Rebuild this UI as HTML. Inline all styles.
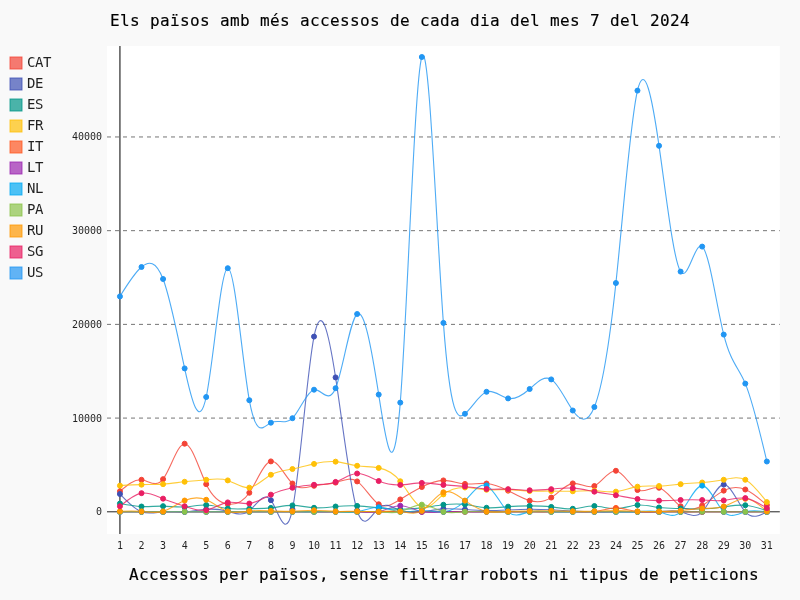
<!DOCTYPE html>
<html lang="ca"><head><meta charset="utf-8"><title>Els països amb més accessos de cada dia del mes 7 del 2024</title>
<style>
html,body{margin:0;padding:0;background:#f9f9f9;}
body{width:800px;height:600px;overflow:hidden;}
svg{display:block;font-family:"DejaVu Sans Mono","Liberation Mono",monospace;}
.title{font-size:16px;letter-spacing:0.3672px;fill:#000;stroke:#000;stroke-width:.15px}
.lab{font-size:10px;letter-spacing:-0.02px;fill:#000;fill-opacity:.87}
.leg{font-size:14px;letter-spacing:-0.43px;fill:#000;fill-opacity:.87}
.guide{stroke:#000;stroke-opacity:.54;stroke-dasharray:4,4;stroke-width:1;fill:none}
.axl{stroke:#000;stroke-opacity:1;stroke-width:1;fill:none}
.zero{stroke:#000;stroke-opacity:.87;stroke-width:1;fill:none}
.line{fill:none;stroke-width:1.1;stroke-opacity:.8;stroke-linejoin:round;stroke-linecap:round}
.dot{stroke-width:1}
.lbox{fill-opacity:.7;stroke-opacity:.8;stroke-width:1}
</style></head><body>
<svg width="800" height="600" viewBox="0 0 800 600">
<rect x="0" y="0" width="800" height="600" fill="#f9f9f9"/>
<rect x="107.00" y="46.00" width="672.80" height="488.00" fill="#ffffff"/>
<text class="title" x="110" y="26">Els països amb més accessos de cada dia del mes 7 del 2024</text>
<g class="axis-y">
<path class="axl" d="M119.94 46.00 v488.00"/>
<path class="zero" d="M107.00 511.80 h672.80"/>
<text class="lab" x="96.00" y="515.30">0</text>
<path class="guide" d="M107.00 418.09 h672.80"/>
<text class="lab" x="72.00" y="421.59">10000</text>
<path class="guide" d="M107.00 324.38 h672.80"/>
<text class="lab" x="72.00" y="327.88">20000</text>
<path class="guide" d="M107.00 230.67 h672.80"/>
<text class="lab" x="72.00" y="234.17">30000</text>
<path class="guide" d="M107.00 136.96 h672.80"/>
<text class="lab" x="72.00" y="140.46">40000</text>
</g>
<g class="axis-x">
<text class="lab" x="116.94" y="549.00">1</text>
<text class="lab" x="138.50" y="549.00">2</text>
<text class="lab" x="160.07" y="549.00">3</text>
<text class="lab" x="181.63" y="549.00">4</text>
<text class="lab" x="203.19" y="549.00">5</text>
<text class="lab" x="224.76" y="549.00">6</text>
<text class="lab" x="246.32" y="549.00">7</text>
<text class="lab" x="267.89" y="549.00">8</text>
<text class="lab" x="289.45" y="549.00">9</text>
<text class="lab" x="308.02" y="549.00">10</text>
<text class="lab" x="329.58" y="549.00">11</text>
<text class="lab" x="351.14" y="549.00">12</text>
<text class="lab" x="372.71" y="549.00">13</text>
<text class="lab" x="394.27" y="549.00">14</text>
<text class="lab" x="415.84" y="549.00">15</text>
<text class="lab" x="437.40" y="549.00">16</text>
<text class="lab" x="458.96" y="549.00">17</text>
<text class="lab" x="480.53" y="549.00">18</text>
<text class="lab" x="502.09" y="549.00">19</text>
<text class="lab" x="523.66" y="549.00">20</text>
<text class="lab" x="545.22" y="549.00">21</text>
<text class="lab" x="566.78" y="549.00">22</text>
<text class="lab" x="588.35" y="549.00">23</text>
<text class="lab" x="609.91" y="549.00">24</text>
<text class="lab" x="631.48" y="549.00">25</text>
<text class="lab" x="653.04" y="549.00">26</text>
<text class="lab" x="674.61" y="549.00">27</text>
<text class="lab" x="696.17" y="549.00">28</text>
<text class="lab" x="717.73" y="549.00">29</text>
<text class="lab" x="739.30" y="549.00">30</text>
<text class="lab" x="760.86" y="549.00">31</text>
</g>
<g class="series">
<path class="line" stroke="#F44336" d="M119.94 491.27C127.13 485.12 134.31 478.98 141.50 479.78C148.69 480.58 155.88 488.33 163.07 479.15C170.25 469.97 177.44 443.87 184.63 443.70C191.82 443.53 199.01 469.30 206.19 484.15C213.38 499.00 220.57 502.93 227.76 504.02C234.95 505.11 242.14 503.36 249.32 492.77C256.51 482.18 263.70 462.76 270.89 461.40C278.08 460.04 285.26 476.73 292.45 483.53C299.64 490.33 306.83 487.25 314.02 485.80C321.20 484.35 328.39 484.54 335.58 482.61C342.77 480.68 349.96 476.62 357.14 481.41C364.33 486.20 371.52 499.82 378.71 504.25C385.90 508.68 393.08 503.92 400.27 499.41C407.46 494.90 414.65 490.64 421.84 487.03C429.02 483.42 436.21 480.44 443.40 480.41C450.59 480.38 457.78 483.29 464.96 483.92C472.15 484.55 479.34 482.91 486.53 483.53C493.72 484.15 500.90 487.03 508.09 490.66C515.28 494.29 522.47 498.68 529.66 500.65C536.84 502.62 544.03 502.16 551.22 497.60C558.41 493.04 565.60 484.38 572.78 483.41C579.97 482.44 587.16 489.17 594.35 486.03C601.54 482.89 608.72 469.88 615.91 470.78C623.10 471.68 630.29 486.49 637.48 490.03C644.66 493.57 651.85 485.86 659.04 487.78C666.23 489.70 673.42 501.27 680.61 506.27C687.79 511.27 694.98 509.71 702.17 505.47C709.36 501.23 716.55 494.30 723.73 490.63C730.92 486.96 738.11 486.55 745.30 489.50C752.49 492.45 759.67 498.77 766.86 505.09"/>
<path class="line" stroke="#3F51B5" d="M119.94 494.03C127.13 501.56 134.31 509.09 141.50 511.80C148.69 514.51 155.88 512.39 163.07 511.80C170.25 511.21 177.44 512.14 184.63 511.80C191.82 511.46 199.01 509.84 206.19 509.31C213.38 508.78 220.57 509.35 227.76 511.30C234.95 513.25 242.14 516.57 249.32 510.90C256.51 505.23 263.70 490.57 270.89 500.15C278.08 509.73 285.26 543.55 292.45 509.30C299.64 475.05 306.83 372.73 314.02 336.60C321.20 300.47 328.39 330.53 335.58 377.41C342.77 424.29 349.96 487.99 357.14 510.50C364.33 533.01 371.52 514.32 378.71 508.00C385.90 501.68 393.08 507.72 400.27 510.50C407.46 513.28 414.65 512.79 421.84 511.80C429.02 510.81 436.21 509.33 443.40 508.84C450.59 508.35 457.78 508.86 464.96 509.40C472.15 509.94 479.34 510.50 486.53 510.60C493.72 510.70 500.90 510.34 508.09 510.00C515.28 509.66 522.47 509.35 529.66 509.30C536.84 509.25 544.03 509.46 551.22 509.80C558.41 510.14 565.60 510.62 572.78 511.00C579.97 511.38 587.16 511.68 594.35 511.80C601.54 511.92 608.72 511.87 615.91 511.80C623.10 511.73 630.29 511.65 637.48 511.80C644.66 511.95 651.85 512.32 659.04 511.80C666.23 511.28 673.42 509.86 680.61 511.80C687.79 513.74 694.98 519.05 702.17 511.80C709.36 504.55 716.55 484.76 723.73 484.62C730.92 484.48 738.11 503.99 745.30 511.80C752.49 519.61 759.67 515.70 766.86 511.80"/>
<path class="line" stroke="#009688" d="M119.94 503.53C127.13 504.89 134.31 506.25 141.50 506.53C148.69 506.81 155.88 506.02 163.07 506.15C170.25 506.28 177.44 507.35 184.63 506.97C191.82 506.59 199.01 504.78 206.19 505.03C213.38 505.28 220.57 507.60 227.76 508.50C234.95 509.40 242.14 508.88 249.32 508.70C256.51 508.52 263.70 508.70 270.89 507.90C278.08 507.10 285.26 505.34 292.45 505.40C299.64 505.46 306.83 507.34 314.02 507.77C321.20 508.20 328.39 507.18 335.58 506.53C342.77 505.88 349.96 505.58 357.14 505.90C364.33 506.22 371.52 507.14 378.71 507.90C385.90 508.66 393.08 509.26 400.27 509.30C407.46 509.34 414.65 508.83 421.84 507.90C429.02 506.97 436.21 505.62 443.40 504.77C450.59 503.92 457.78 503.56 464.96 504.40C472.15 505.24 479.34 507.27 486.53 507.77C493.72 508.27 500.90 507.24 508.09 506.65C515.28 506.06 522.47 505.90 529.66 505.90C536.84 505.90 544.03 506.07 551.22 506.90C558.41 507.73 565.60 509.24 572.78 508.77C579.97 508.30 587.16 505.85 594.35 506.03C601.54 506.21 608.72 509.00 615.91 508.84C623.10 508.68 630.29 505.56 637.48 505.03C644.66 504.50 651.85 506.57 659.04 507.53C666.23 508.49 673.42 508.35 680.61 508.52C687.79 508.69 694.98 509.17 702.17 509.00C709.36 508.83 716.55 508.01 723.73 506.97C730.92 505.93 738.11 504.66 745.30 505.25C752.49 505.84 759.67 508.27 766.86 510.71"/>
<path class="line" stroke="#FFC107" d="M119.94 485.65C127.13 485.22 134.31 484.80 141.50 484.65C148.69 484.50 155.88 484.63 163.07 484.15C170.25 483.67 177.44 482.56 184.63 481.78C191.82 481.00 199.01 480.53 206.19 479.78C213.38 479.03 220.57 478.00 227.76 480.40C234.95 482.80 242.14 488.63 249.32 487.65C256.51 486.67 263.70 478.87 270.89 474.78C278.08 470.69 285.26 470.31 292.45 469.03C299.64 467.75 306.83 465.58 314.02 463.90C321.20 462.22 328.39 461.03 335.58 461.65C342.77 462.27 349.96 464.71 357.14 465.77C364.33 466.83 371.52 466.53 378.71 467.90C385.90 469.27 393.08 472.33 400.27 481.28C407.46 490.23 414.65 505.08 421.84 507.53C429.02 509.98 436.21 500.05 443.40 494.40C450.59 488.75 457.78 487.39 464.96 487.53C472.15 487.67 479.34 489.32 486.53 489.78C493.72 490.24 500.90 489.52 508.09 489.64C515.28 489.76 522.47 490.73 529.66 491.04C536.84 491.35 544.03 491.01 551.22 491.04C558.41 491.07 565.60 491.46 572.78 491.27C579.97 491.08 587.16 490.32 594.35 490.66C601.54 491.00 608.72 492.44 615.91 491.65C623.10 490.86 630.29 487.83 637.48 486.66C644.66 485.49 651.85 486.19 659.04 486.03C666.23 485.87 673.42 484.85 680.61 484.15C687.79 483.45 694.98 483.06 702.17 482.50C709.36 481.94 716.55 481.20 723.73 479.75C730.92 478.30 738.11 476.14 745.30 479.75C752.49 483.36 759.67 492.74 766.86 502.12"/>
<path class="line" stroke="#FF5722" d="M119.94 511.80C127.13 511.80 134.31 511.80 141.50 511.80C148.69 511.80 155.88 511.80 163.07 511.80C170.25 511.80 177.44 511.80 184.63 511.80C191.82 511.80 199.01 511.80 206.19 511.80C213.38 511.80 220.57 511.80 227.76 511.80C234.95 511.80 242.14 511.80 249.32 511.80C256.51 511.80 263.70 511.80 270.89 511.80C278.08 511.80 285.26 511.80 292.45 511.80C299.64 511.80 306.83 511.80 314.02 511.80C321.20 511.80 328.39 511.80 335.58 511.80C342.77 511.80 349.96 511.80 357.14 511.80C364.33 511.80 371.52 511.80 378.71 511.80C385.90 511.80 393.08 511.80 400.27 511.80C407.46 511.80 414.65 511.80 421.84 511.80C429.02 511.80 436.21 511.80 443.40 511.80C450.59 511.80 457.78 511.80 464.96 511.80C472.15 511.80 479.34 511.80 486.53 511.80C493.72 511.80 500.90 511.81 508.09 511.80C515.28 511.79 522.47 511.78 529.66 511.80C536.84 511.82 544.03 511.88 551.22 511.80C558.41 511.72 565.60 511.52 572.78 511.80C579.97 512.08 587.16 512.85 594.35 511.80C601.54 510.75 608.72 507.90 615.91 507.90C623.10 507.90 630.29 510.75 637.48 511.80C644.66 512.85 651.85 512.08 659.04 511.80C666.23 511.52 673.42 511.72 680.61 511.80C687.79 511.88 694.98 511.82 702.17 511.80C709.36 511.78 716.55 511.79 723.73 511.80C730.92 511.81 738.11 511.80 745.30 511.80C752.49 511.80 759.67 511.80 766.86 511.80"/>
<path class="line" stroke="#9C27B0" d="M119.94 511.80C127.13 511.80 134.31 511.80 141.50 511.80C148.69 511.80 155.88 511.80 163.07 511.80C170.25 511.80 177.44 511.80 184.63 511.80C191.82 511.80 199.01 511.80 206.19 511.80C213.38 511.80 220.57 511.80 227.76 511.80C234.95 511.80 242.14 511.80 249.32 511.80C256.51 511.80 263.70 511.80 270.89 511.80C278.08 511.80 285.26 511.81 292.45 511.80C299.64 511.79 306.83 511.77 314.02 511.80C321.20 511.83 328.39 511.92 335.58 511.80C342.77 511.68 349.96 511.37 357.14 511.80C364.33 512.23 371.52 513.41 378.71 511.80C385.90 510.19 393.08 505.78 400.27 505.78C407.46 505.78 414.65 510.19 421.84 511.80C429.02 513.41 436.21 512.23 443.40 511.80C450.59 511.37 457.78 511.68 464.96 511.80C472.15 511.92 479.34 511.83 486.53 511.80C493.72 511.77 500.90 511.79 508.09 511.80C515.28 511.81 522.47 511.80 529.66 511.80C536.84 511.80 544.03 511.80 551.22 511.80C558.41 511.80 565.60 511.80 572.78 511.80C579.97 511.80 587.16 511.80 594.35 511.80C601.54 511.80 608.72 511.80 615.91 511.80C623.10 511.80 630.29 511.80 637.48 511.80C644.66 511.80 651.85 511.80 659.04 511.80C666.23 511.80 673.42 511.80 680.61 511.80C687.79 511.80 694.98 511.80 702.17 511.80C709.36 511.80 716.55 511.80 723.73 511.80C730.92 511.80 738.11 511.80 745.30 511.80C752.49 511.80 759.67 511.80 766.86 511.80"/>
<path class="line" stroke="#03A9F4" d="M119.94 511.80C127.13 511.80 134.31 511.80 141.50 511.80C148.69 511.80 155.88 511.80 163.07 511.80C170.25 511.80 177.44 511.80 184.63 511.80C191.82 511.80 199.01 511.80 206.19 511.80C213.38 511.80 220.57 511.80 227.76 511.80C234.95 511.80 242.14 511.80 249.32 511.80C256.51 511.80 263.70 511.81 270.89 511.80C278.08 511.79 285.26 511.78 292.45 511.80C299.64 511.82 306.83 511.89 314.02 511.80C321.20 511.71 328.39 511.47 335.58 511.80C342.77 512.13 349.96 513.04 357.14 511.80C364.33 510.56 371.52 507.17 378.71 507.28C385.90 507.39 393.08 511.01 400.27 511.80C407.46 512.59 414.65 510.54 421.84 510.50C429.02 510.46 436.21 512.42 443.40 511.80C450.59 511.18 457.78 507.99 464.96 500.80C472.15 493.61 479.34 482.43 486.53 485.41C493.72 488.39 500.90 505.53 508.09 511.80C515.28 518.07 522.47 513.48 529.66 511.80C536.84 510.12 544.03 511.35 551.22 511.80C558.41 512.25 565.60 511.91 572.78 511.80C579.97 511.69 587.16 511.80 594.35 511.80C601.54 511.80 608.72 511.67 615.91 511.80C623.10 511.93 630.29 512.30 637.48 511.80C644.66 511.30 651.85 509.92 659.04 511.80C666.23 513.68 673.42 518.81 680.61 511.80C687.79 504.79 694.98 485.64 702.17 485.63C709.36 485.62 716.55 504.75 723.73 511.80C730.92 518.85 738.11 513.81 745.30 511.80C752.49 509.79 759.67 510.79 766.86 511.80"/>
<path class="line" stroke="#8BC34A" d="M119.94 511.80C127.13 511.80 134.31 511.80 141.50 511.80C148.69 511.80 155.88 511.80 163.07 511.80C170.25 511.80 177.44 511.80 184.63 511.80C191.82 511.80 199.01 511.80 206.19 511.80C213.38 511.80 220.57 511.80 227.76 511.80C234.95 511.80 242.14 511.80 249.32 511.80C256.51 511.80 263.70 511.80 270.89 511.80C278.08 511.80 285.26 511.80 292.45 511.80C299.64 511.80 306.83 511.81 314.02 511.80C321.20 511.79 328.39 511.76 335.58 511.80C342.77 511.84 349.96 511.94 357.14 511.80C364.33 511.66 371.52 511.29 378.71 511.80C385.90 512.31 393.08 513.72 400.27 511.80C407.46 509.88 414.65 504.65 421.84 504.65C429.02 504.65 436.21 509.88 443.40 511.80C450.59 513.72 457.78 512.31 464.96 511.80C472.15 511.29 479.34 511.66 486.53 511.80C493.72 511.94 500.90 511.84 508.09 511.80C515.28 511.76 522.47 511.79 529.66 511.80C536.84 511.81 544.03 511.80 551.22 511.80C558.41 511.80 565.60 511.80 572.78 511.80C579.97 511.80 587.16 511.80 594.35 511.80C601.54 511.80 608.72 511.80 615.91 511.80C623.10 511.80 630.29 511.80 637.48 511.80C644.66 511.80 651.85 511.80 659.04 511.80C666.23 511.80 673.42 511.80 680.61 511.80C687.79 511.80 694.98 511.80 702.17 511.80C709.36 511.80 716.55 511.80 723.73 511.80C730.92 511.80 738.11 511.80 745.30 511.80C752.49 511.80 759.67 511.80 766.86 511.80"/>
<path class="line" stroke="#FF9800" d="M119.94 511.28C127.13 511.03 134.31 510.78 141.50 511.40C148.69 512.02 155.88 513.49 163.07 511.40C170.25 509.31 177.44 503.64 184.63 500.52C191.82 497.40 199.01 496.84 206.19 499.77C213.38 502.70 220.57 509.13 227.76 511.40C234.95 513.67 242.14 511.79 249.32 511.02C256.51 510.25 263.70 510.58 270.89 510.90C278.08 511.22 285.26 511.53 292.45 511.28C299.64 511.03 306.83 510.24 314.02 510.27C321.20 510.30 328.39 511.17 335.58 511.40C342.77 511.63 349.96 511.22 357.14 511.28C364.33 511.34 371.52 511.87 378.71 511.65C385.90 511.43 393.08 510.45 400.27 511.40C407.46 512.35 414.65 515.23 421.84 510.90C429.02 506.57 436.21 495.03 443.40 492.28C450.59 489.53 457.78 495.57 464.96 500.65C472.15 505.73 479.34 509.87 486.53 511.40C493.72 512.93 500.90 511.87 508.09 511.40C515.28 510.93 522.47 511.07 529.66 511.02C536.84 510.97 544.03 510.75 551.22 510.78C558.41 510.81 565.60 511.11 572.78 511.28C579.97 511.45 587.16 511.49 594.35 511.28C601.54 511.07 608.72 510.62 615.91 510.65C623.10 510.68 630.29 511.20 637.48 511.40C644.66 511.60 651.85 511.48 659.04 511.40C666.23 511.32 673.42 511.27 680.61 510.65C687.79 510.03 694.98 508.82 702.17 508.52C709.36 508.22 716.55 508.81 723.73 506.38C730.92 503.95 738.11 498.51 745.30 498.82C752.49 499.13 759.67 505.21 766.86 511.28"/>
<path class="line" stroke="#E91E63" d="M119.94 506.27C127.13 500.28 134.31 494.30 141.50 493.15C148.69 492.00 155.88 495.70 163.07 498.65C170.25 501.60 177.44 503.81 184.63 506.27C191.82 508.73 199.01 511.45 206.19 510.15C213.38 508.85 220.57 503.52 227.76 502.40C234.95 501.28 242.14 504.35 249.32 503.53C256.51 502.71 263.70 498.00 270.89 494.65C278.08 491.30 285.26 489.30 292.45 487.78C299.64 486.26 306.83 485.21 314.02 484.78C321.20 484.35 328.39 484.54 335.58 481.91C342.77 479.28 349.96 473.84 357.14 473.53C364.33 473.22 371.52 478.06 378.71 481.04C385.90 484.02 393.08 485.15 400.27 484.90C407.46 484.65 414.65 483.03 421.84 482.91C429.02 482.79 436.21 484.17 443.40 484.90C450.59 485.63 457.78 485.71 464.96 486.45C472.15 487.19 479.34 488.58 486.53 489.03C493.72 489.48 500.90 488.99 508.09 489.16C515.28 489.33 522.47 490.15 529.66 490.28C536.84 490.41 544.03 489.85 551.22 489.17C558.41 488.49 565.60 487.71 572.78 488.16C579.97 488.61 587.16 490.30 594.35 491.65C601.54 493.00 608.72 494.02 615.91 495.27C623.10 496.52 630.29 498.01 637.48 499.03C644.66 500.05 651.85 500.59 659.04 500.65C666.23 500.71 673.42 500.28 680.61 500.02C687.79 499.76 694.98 499.66 702.17 500.02C709.36 500.38 716.55 501.20 723.73 500.38C730.92 499.56 738.11 497.10 745.30 498.12C752.49 499.14 759.67 503.63 766.86 508.13"/>
<path class="line" stroke="#2196F3" d="M119.94 296.40C127.13 284.74 134.31 273.08 141.50 267.00C148.69 260.92 155.88 260.42 163.07 279.01C170.25 297.60 177.44 335.27 184.63 368.40C191.82 401.53 199.01 430.12 206.19 397.00C213.38 363.88 220.57 269.06 227.76 268.20C234.95 267.34 242.14 360.43 249.32 400.20C256.51 439.97 263.70 426.40 270.89 422.70C278.08 419.00 285.26 425.16 292.45 418.20C299.64 411.24 306.83 391.18 314.02 389.70C321.20 388.22 328.39 405.34 335.58 388.20C342.77 371.06 349.96 319.67 357.14 314.00C364.33 308.33 371.52 348.37 378.71 394.60C385.90 440.83 393.08 493.24 400.27 402.60C407.46 311.96 414.65 78.28 421.84 57.00C429.02 35.72 436.21 226.83 443.40 322.88C450.59 418.93 457.78 419.90 464.96 413.80C472.15 407.70 479.34 394.51 486.53 391.80C493.72 389.09 500.90 396.87 508.09 398.40C515.28 399.93 522.47 395.23 529.66 389.00C536.84 382.77 544.03 375.02 551.22 379.40C558.41 383.78 565.60 400.31 572.78 410.52C579.97 420.73 587.16 424.63 594.35 407.00C601.54 389.37 608.72 350.21 615.91 283.01C623.10 215.81 630.29 120.59 637.48 90.60C644.66 60.61 651.85 95.87 659.04 145.80C666.23 195.73 673.42 260.33 680.61 271.60C687.79 282.87 694.98 240.81 702.17 246.60C709.36 252.39 716.55 306.03 723.73 334.59C730.92 363.15 738.11 366.63 745.30 383.60C752.49 400.57 759.67 431.04 766.86 461.50"/>
</g>
<g class="dots">
<g fill="#F44336" stroke="#F44336">
<circle class="dot" cx="119.94" cy="491.27" r="2.5"/>
<circle class="dot" cx="141.50" cy="479.78" r="2.5"/>
<circle class="dot" cx="163.07" cy="479.15" r="2.5"/>
<circle class="dot" cx="184.63" cy="443.70" r="2.5"/>
<circle class="dot" cx="206.19" cy="484.15" r="2.5"/>
<circle class="dot" cx="227.76" cy="504.02" r="2.5"/>
<circle class="dot" cx="249.32" cy="492.77" r="2.5"/>
<circle class="dot" cx="270.89" cy="461.40" r="2.5"/>
<circle class="dot" cx="292.45" cy="483.53" r="2.5"/>
<circle class="dot" cx="314.02" cy="485.80" r="2.5"/>
<circle class="dot" cx="335.58" cy="482.61" r="2.5"/>
<circle class="dot" cx="357.14" cy="481.41" r="2.5"/>
<circle class="dot" cx="378.71" cy="504.25" r="2.5"/>
<circle class="dot" cx="400.27" cy="499.41" r="2.5"/>
<circle class="dot" cx="421.84" cy="487.03" r="2.5"/>
<circle class="dot" cx="443.40" cy="480.41" r="2.5"/>
<circle class="dot" cx="464.96" cy="483.92" r="2.5"/>
<circle class="dot" cx="486.53" cy="483.53" r="2.5"/>
<circle class="dot" cx="508.09" cy="490.66" r="2.5"/>
<circle class="dot" cx="529.66" cy="500.65" r="2.5"/>
<circle class="dot" cx="551.22" cy="497.60" r="2.5"/>
<circle class="dot" cx="572.78" cy="483.41" r="2.5"/>
<circle class="dot" cx="594.35" cy="486.03" r="2.5"/>
<circle class="dot" cx="615.91" cy="470.78" r="2.5"/>
<circle class="dot" cx="637.48" cy="490.03" r="2.5"/>
<circle class="dot" cx="659.04" cy="487.78" r="2.5"/>
<circle class="dot" cx="680.61" cy="506.27" r="2.5"/>
<circle class="dot" cx="702.17" cy="505.47" r="2.5"/>
<circle class="dot" cx="723.73" cy="490.63" r="2.5"/>
<circle class="dot" cx="745.30" cy="489.50" r="2.5"/>
<circle class="dot" cx="766.86" cy="505.09" r="2.5"/>
</g>
<g fill="#3F51B5" stroke="#3F51B5">
<circle class="dot" cx="119.94" cy="494.03" r="2.5"/>
<circle class="dot" cx="141.50" cy="511.80" r="2.5"/>
<circle class="dot" cx="163.07" cy="511.80" r="2.5"/>
<circle class="dot" cx="184.63" cy="511.80" r="2.5"/>
<circle class="dot" cx="206.19" cy="509.31" r="2.5"/>
<circle class="dot" cx="227.76" cy="511.30" r="2.5"/>
<circle class="dot" cx="249.32" cy="510.90" r="2.5"/>
<circle class="dot" cx="270.89" cy="500.15" r="2.5"/>
<circle class="dot" cx="292.45" cy="509.30" r="2.5"/>
<circle class="dot" cx="314.02" cy="336.60" r="2.5"/>
<circle class="dot" cx="335.58" cy="377.41" r="2.5"/>
<circle class="dot" cx="357.14" cy="510.50" r="2.5"/>
<circle class="dot" cx="378.71" cy="508.00" r="2.5"/>
<circle class="dot" cx="400.27" cy="510.50" r="2.5"/>
<circle class="dot" cx="421.84" cy="511.80" r="2.5"/>
<circle class="dot" cx="443.40" cy="508.84" r="2.5"/>
<circle class="dot" cx="464.96" cy="509.40" r="2.5"/>
<circle class="dot" cx="486.53" cy="510.60" r="2.5"/>
<circle class="dot" cx="508.09" cy="510.00" r="2.5"/>
<circle class="dot" cx="529.66" cy="509.30" r="2.5"/>
<circle class="dot" cx="551.22" cy="509.80" r="2.5"/>
<circle class="dot" cx="572.78" cy="511.00" r="2.5"/>
<circle class="dot" cx="594.35" cy="511.80" r="2.5"/>
<circle class="dot" cx="615.91" cy="511.80" r="2.5"/>
<circle class="dot" cx="637.48" cy="511.80" r="2.5"/>
<circle class="dot" cx="659.04" cy="511.80" r="2.5"/>
<circle class="dot" cx="680.61" cy="511.80" r="2.5"/>
<circle class="dot" cx="702.17" cy="511.80" r="2.5"/>
<circle class="dot" cx="723.73" cy="484.62" r="2.5"/>
<circle class="dot" cx="745.30" cy="511.80" r="2.5"/>
<circle class="dot" cx="766.86" cy="511.80" r="2.5"/>
</g>
<g fill="#009688" stroke="#009688">
<circle class="dot" cx="119.94" cy="503.53" r="2.5"/>
<circle class="dot" cx="141.50" cy="506.53" r="2.5"/>
<circle class="dot" cx="163.07" cy="506.15" r="2.5"/>
<circle class="dot" cx="184.63" cy="506.97" r="2.5"/>
<circle class="dot" cx="206.19" cy="505.03" r="2.5"/>
<circle class="dot" cx="227.76" cy="508.50" r="2.5"/>
<circle class="dot" cx="249.32" cy="508.70" r="2.5"/>
<circle class="dot" cx="270.89" cy="507.90" r="2.5"/>
<circle class="dot" cx="292.45" cy="505.40" r="2.5"/>
<circle class="dot" cx="314.02" cy="507.77" r="2.5"/>
<circle class="dot" cx="335.58" cy="506.53" r="2.5"/>
<circle class="dot" cx="357.14" cy="505.90" r="2.5"/>
<circle class="dot" cx="378.71" cy="507.90" r="2.5"/>
<circle class="dot" cx="400.27" cy="509.30" r="2.5"/>
<circle class="dot" cx="421.84" cy="507.90" r="2.5"/>
<circle class="dot" cx="443.40" cy="504.77" r="2.5"/>
<circle class="dot" cx="464.96" cy="504.40" r="2.5"/>
<circle class="dot" cx="486.53" cy="507.77" r="2.5"/>
<circle class="dot" cx="508.09" cy="506.65" r="2.5"/>
<circle class="dot" cx="529.66" cy="505.90" r="2.5"/>
<circle class="dot" cx="551.22" cy="506.90" r="2.5"/>
<circle class="dot" cx="572.78" cy="508.77" r="2.5"/>
<circle class="dot" cx="594.35" cy="506.03" r="2.5"/>
<circle class="dot" cx="615.91" cy="508.84" r="2.5"/>
<circle class="dot" cx="637.48" cy="505.03" r="2.5"/>
<circle class="dot" cx="659.04" cy="507.53" r="2.5"/>
<circle class="dot" cx="680.61" cy="508.52" r="2.5"/>
<circle class="dot" cx="702.17" cy="509.00" r="2.5"/>
<circle class="dot" cx="723.73" cy="506.97" r="2.5"/>
<circle class="dot" cx="745.30" cy="505.25" r="2.5"/>
<circle class="dot" cx="766.86" cy="510.71" r="2.5"/>
</g>
<g fill="#FFC107" stroke="#FFC107">
<circle class="dot" cx="119.94" cy="485.65" r="2.5"/>
<circle class="dot" cx="141.50" cy="484.65" r="2.5"/>
<circle class="dot" cx="163.07" cy="484.15" r="2.5"/>
<circle class="dot" cx="184.63" cy="481.78" r="2.5"/>
<circle class="dot" cx="206.19" cy="479.78" r="2.5"/>
<circle class="dot" cx="227.76" cy="480.40" r="2.5"/>
<circle class="dot" cx="249.32" cy="487.65" r="2.5"/>
<circle class="dot" cx="270.89" cy="474.78" r="2.5"/>
<circle class="dot" cx="292.45" cy="469.03" r="2.5"/>
<circle class="dot" cx="314.02" cy="463.90" r="2.5"/>
<circle class="dot" cx="335.58" cy="461.65" r="2.5"/>
<circle class="dot" cx="357.14" cy="465.77" r="2.5"/>
<circle class="dot" cx="378.71" cy="467.90" r="2.5"/>
<circle class="dot" cx="400.27" cy="481.28" r="2.5"/>
<circle class="dot" cx="421.84" cy="507.53" r="2.5"/>
<circle class="dot" cx="443.40" cy="494.40" r="2.5"/>
<circle class="dot" cx="464.96" cy="487.53" r="2.5"/>
<circle class="dot" cx="486.53" cy="489.78" r="2.5"/>
<circle class="dot" cx="508.09" cy="489.64" r="2.5"/>
<circle class="dot" cx="529.66" cy="491.04" r="2.5"/>
<circle class="dot" cx="551.22" cy="491.04" r="2.5"/>
<circle class="dot" cx="572.78" cy="491.27" r="2.5"/>
<circle class="dot" cx="594.35" cy="490.66" r="2.5"/>
<circle class="dot" cx="615.91" cy="491.65" r="2.5"/>
<circle class="dot" cx="637.48" cy="486.66" r="2.5"/>
<circle class="dot" cx="659.04" cy="486.03" r="2.5"/>
<circle class="dot" cx="680.61" cy="484.15" r="2.5"/>
<circle class="dot" cx="702.17" cy="482.50" r="2.5"/>
<circle class="dot" cx="723.73" cy="479.75" r="2.5"/>
<circle class="dot" cx="745.30" cy="479.75" r="2.5"/>
<circle class="dot" cx="766.86" cy="502.12" r="2.5"/>
</g>
<g fill="#FF5722" stroke="#FF5722">
<circle class="dot" cx="119.94" cy="511.80" r="2.5"/>
<circle class="dot" cx="141.50" cy="511.80" r="2.5"/>
<circle class="dot" cx="163.07" cy="511.80" r="2.5"/>
<circle class="dot" cx="184.63" cy="511.80" r="2.5"/>
<circle class="dot" cx="206.19" cy="511.80" r="2.5"/>
<circle class="dot" cx="227.76" cy="511.80" r="2.5"/>
<circle class="dot" cx="249.32" cy="511.80" r="2.5"/>
<circle class="dot" cx="270.89" cy="511.80" r="2.5"/>
<circle class="dot" cx="292.45" cy="511.80" r="2.5"/>
<circle class="dot" cx="314.02" cy="511.80" r="2.5"/>
<circle class="dot" cx="335.58" cy="511.80" r="2.5"/>
<circle class="dot" cx="357.14" cy="511.80" r="2.5"/>
<circle class="dot" cx="378.71" cy="511.80" r="2.5"/>
<circle class="dot" cx="400.27" cy="511.80" r="2.5"/>
<circle class="dot" cx="421.84" cy="511.80" r="2.5"/>
<circle class="dot" cx="443.40" cy="511.80" r="2.5"/>
<circle class="dot" cx="464.96" cy="511.80" r="2.5"/>
<circle class="dot" cx="486.53" cy="511.80" r="2.5"/>
<circle class="dot" cx="508.09" cy="511.80" r="2.5"/>
<circle class="dot" cx="529.66" cy="511.80" r="2.5"/>
<circle class="dot" cx="551.22" cy="511.80" r="2.5"/>
<circle class="dot" cx="572.78" cy="511.80" r="2.5"/>
<circle class="dot" cx="594.35" cy="511.80" r="2.5"/>
<circle class="dot" cx="615.91" cy="507.90" r="2.5"/>
<circle class="dot" cx="637.48" cy="511.80" r="2.5"/>
<circle class="dot" cx="659.04" cy="511.80" r="2.5"/>
<circle class="dot" cx="680.61" cy="511.80" r="2.5"/>
<circle class="dot" cx="702.17" cy="511.80" r="2.5"/>
<circle class="dot" cx="723.73" cy="511.80" r="2.5"/>
<circle class="dot" cx="745.30" cy="511.80" r="2.5"/>
<circle class="dot" cx="766.86" cy="511.80" r="2.5"/>
</g>
<g fill="#9C27B0" stroke="#9C27B0">
<circle class="dot" cx="119.94" cy="511.80" r="2.5"/>
<circle class="dot" cx="141.50" cy="511.80" r="2.5"/>
<circle class="dot" cx="163.07" cy="511.80" r="2.5"/>
<circle class="dot" cx="184.63" cy="511.80" r="2.5"/>
<circle class="dot" cx="206.19" cy="511.80" r="2.5"/>
<circle class="dot" cx="227.76" cy="511.80" r="2.5"/>
<circle class="dot" cx="249.32" cy="511.80" r="2.5"/>
<circle class="dot" cx="270.89" cy="511.80" r="2.5"/>
<circle class="dot" cx="292.45" cy="511.80" r="2.5"/>
<circle class="dot" cx="314.02" cy="511.80" r="2.5"/>
<circle class="dot" cx="335.58" cy="511.80" r="2.5"/>
<circle class="dot" cx="357.14" cy="511.80" r="2.5"/>
<circle class="dot" cx="378.71" cy="511.80" r="2.5"/>
<circle class="dot" cx="400.27" cy="505.78" r="2.5"/>
<circle class="dot" cx="421.84" cy="511.80" r="2.5"/>
<circle class="dot" cx="443.40" cy="511.80" r="2.5"/>
<circle class="dot" cx="464.96" cy="511.80" r="2.5"/>
<circle class="dot" cx="486.53" cy="511.80" r="2.5"/>
<circle class="dot" cx="508.09" cy="511.80" r="2.5"/>
<circle class="dot" cx="529.66" cy="511.80" r="2.5"/>
<circle class="dot" cx="551.22" cy="511.80" r="2.5"/>
<circle class="dot" cx="572.78" cy="511.80" r="2.5"/>
<circle class="dot" cx="594.35" cy="511.80" r="2.5"/>
<circle class="dot" cx="615.91" cy="511.80" r="2.5"/>
<circle class="dot" cx="637.48" cy="511.80" r="2.5"/>
<circle class="dot" cx="659.04" cy="511.80" r="2.5"/>
<circle class="dot" cx="680.61" cy="511.80" r="2.5"/>
<circle class="dot" cx="702.17" cy="511.80" r="2.5"/>
<circle class="dot" cx="723.73" cy="511.80" r="2.5"/>
<circle class="dot" cx="745.30" cy="511.80" r="2.5"/>
<circle class="dot" cx="766.86" cy="511.80" r="2.5"/>
</g>
<g fill="#03A9F4" stroke="#03A9F4">
<circle class="dot" cx="119.94" cy="511.80" r="2.5"/>
<circle class="dot" cx="141.50" cy="511.80" r="2.5"/>
<circle class="dot" cx="163.07" cy="511.80" r="2.5"/>
<circle class="dot" cx="184.63" cy="511.80" r="2.5"/>
<circle class="dot" cx="206.19" cy="511.80" r="2.5"/>
<circle class="dot" cx="227.76" cy="511.80" r="2.5"/>
<circle class="dot" cx="249.32" cy="511.80" r="2.5"/>
<circle class="dot" cx="270.89" cy="511.80" r="2.5"/>
<circle class="dot" cx="292.45" cy="511.80" r="2.5"/>
<circle class="dot" cx="314.02" cy="511.80" r="2.5"/>
<circle class="dot" cx="335.58" cy="511.80" r="2.5"/>
<circle class="dot" cx="357.14" cy="511.80" r="2.5"/>
<circle class="dot" cx="378.71" cy="507.28" r="2.5"/>
<circle class="dot" cx="400.27" cy="511.80" r="2.5"/>
<circle class="dot" cx="421.84" cy="510.50" r="2.5"/>
<circle class="dot" cx="443.40" cy="511.80" r="2.5"/>
<circle class="dot" cx="464.96" cy="500.80" r="2.5"/>
<circle class="dot" cx="486.53" cy="485.41" r="2.5"/>
<circle class="dot" cx="508.09" cy="511.80" r="2.5"/>
<circle class="dot" cx="529.66" cy="511.80" r="2.5"/>
<circle class="dot" cx="551.22" cy="511.80" r="2.5"/>
<circle class="dot" cx="572.78" cy="511.80" r="2.5"/>
<circle class="dot" cx="594.35" cy="511.80" r="2.5"/>
<circle class="dot" cx="615.91" cy="511.80" r="2.5"/>
<circle class="dot" cx="637.48" cy="511.80" r="2.5"/>
<circle class="dot" cx="659.04" cy="511.80" r="2.5"/>
<circle class="dot" cx="680.61" cy="511.80" r="2.5"/>
<circle class="dot" cx="702.17" cy="485.63" r="2.5"/>
<circle class="dot" cx="723.73" cy="511.80" r="2.5"/>
<circle class="dot" cx="745.30" cy="511.80" r="2.5"/>
<circle class="dot" cx="766.86" cy="511.80" r="2.5"/>
</g>
<g fill="#8BC34A" stroke="#8BC34A">
<circle class="dot" cx="119.94" cy="511.80" r="2.5"/>
<circle class="dot" cx="141.50" cy="511.80" r="2.5"/>
<circle class="dot" cx="163.07" cy="511.80" r="2.5"/>
<circle class="dot" cx="184.63" cy="511.80" r="2.5"/>
<circle class="dot" cx="206.19" cy="511.80" r="2.5"/>
<circle class="dot" cx="227.76" cy="511.80" r="2.5"/>
<circle class="dot" cx="249.32" cy="511.80" r="2.5"/>
<circle class="dot" cx="270.89" cy="511.80" r="2.5"/>
<circle class="dot" cx="292.45" cy="511.80" r="2.5"/>
<circle class="dot" cx="314.02" cy="511.80" r="2.5"/>
<circle class="dot" cx="335.58" cy="511.80" r="2.5"/>
<circle class="dot" cx="357.14" cy="511.80" r="2.5"/>
<circle class="dot" cx="378.71" cy="511.80" r="2.5"/>
<circle class="dot" cx="400.27" cy="511.80" r="2.5"/>
<circle class="dot" cx="421.84" cy="504.65" r="2.5"/>
<circle class="dot" cx="443.40" cy="511.80" r="2.5"/>
<circle class="dot" cx="464.96" cy="511.80" r="2.5"/>
<circle class="dot" cx="486.53" cy="511.80" r="2.5"/>
<circle class="dot" cx="508.09" cy="511.80" r="2.5"/>
<circle class="dot" cx="529.66" cy="511.80" r="2.5"/>
<circle class="dot" cx="551.22" cy="511.80" r="2.5"/>
<circle class="dot" cx="572.78" cy="511.80" r="2.5"/>
<circle class="dot" cx="594.35" cy="511.80" r="2.5"/>
<circle class="dot" cx="615.91" cy="511.80" r="2.5"/>
<circle class="dot" cx="637.48" cy="511.80" r="2.5"/>
<circle class="dot" cx="659.04" cy="511.80" r="2.5"/>
<circle class="dot" cx="680.61" cy="511.80" r="2.5"/>
<circle class="dot" cx="702.17" cy="511.80" r="2.5"/>
<circle class="dot" cx="723.73" cy="511.80" r="2.5"/>
<circle class="dot" cx="745.30" cy="511.80" r="2.5"/>
<circle class="dot" cx="766.86" cy="511.80" r="2.5"/>
</g>
<g fill="#FF9800" stroke="#FF9800">
<circle class="dot" cx="119.94" cy="511.28" r="2.5"/>
<circle class="dot" cx="141.50" cy="511.40" r="2.5"/>
<circle class="dot" cx="163.07" cy="511.40" r="2.5"/>
<circle class="dot" cx="184.63" cy="500.52" r="2.5"/>
<circle class="dot" cx="206.19" cy="499.77" r="2.5"/>
<circle class="dot" cx="227.76" cy="511.40" r="2.5"/>
<circle class="dot" cx="249.32" cy="511.02" r="2.5"/>
<circle class="dot" cx="270.89" cy="510.90" r="2.5"/>
<circle class="dot" cx="292.45" cy="511.28" r="2.5"/>
<circle class="dot" cx="314.02" cy="510.27" r="2.5"/>
<circle class="dot" cx="335.58" cy="511.40" r="2.5"/>
<circle class="dot" cx="357.14" cy="511.28" r="2.5"/>
<circle class="dot" cx="378.71" cy="511.65" r="2.5"/>
<circle class="dot" cx="400.27" cy="511.40" r="2.5"/>
<circle class="dot" cx="421.84" cy="510.90" r="2.5"/>
<circle class="dot" cx="443.40" cy="492.28" r="2.5"/>
<circle class="dot" cx="464.96" cy="500.65" r="2.5"/>
<circle class="dot" cx="486.53" cy="511.40" r="2.5"/>
<circle class="dot" cx="508.09" cy="511.40" r="2.5"/>
<circle class="dot" cx="529.66" cy="511.02" r="2.5"/>
<circle class="dot" cx="551.22" cy="510.78" r="2.5"/>
<circle class="dot" cx="572.78" cy="511.28" r="2.5"/>
<circle class="dot" cx="594.35" cy="511.28" r="2.5"/>
<circle class="dot" cx="615.91" cy="510.65" r="2.5"/>
<circle class="dot" cx="637.48" cy="511.40" r="2.5"/>
<circle class="dot" cx="659.04" cy="511.40" r="2.5"/>
<circle class="dot" cx="680.61" cy="510.65" r="2.5"/>
<circle class="dot" cx="702.17" cy="508.52" r="2.5"/>
<circle class="dot" cx="723.73" cy="506.38" r="2.5"/>
<circle class="dot" cx="745.30" cy="498.82" r="2.5"/>
<circle class="dot" cx="766.86" cy="511.28" r="2.5"/>
</g>
<g fill="#E91E63" stroke="#E91E63">
<circle class="dot" cx="119.94" cy="506.27" r="2.5"/>
<circle class="dot" cx="141.50" cy="493.15" r="2.5"/>
<circle class="dot" cx="163.07" cy="498.65" r="2.5"/>
<circle class="dot" cx="184.63" cy="506.27" r="2.5"/>
<circle class="dot" cx="206.19" cy="510.15" r="2.5"/>
<circle class="dot" cx="227.76" cy="502.40" r="2.5"/>
<circle class="dot" cx="249.32" cy="503.53" r="2.5"/>
<circle class="dot" cx="270.89" cy="494.65" r="2.5"/>
<circle class="dot" cx="292.45" cy="487.78" r="2.5"/>
<circle class="dot" cx="314.02" cy="484.78" r="2.5"/>
<circle class="dot" cx="335.58" cy="481.91" r="2.5"/>
<circle class="dot" cx="357.14" cy="473.53" r="2.5"/>
<circle class="dot" cx="378.71" cy="481.04" r="2.5"/>
<circle class="dot" cx="400.27" cy="484.90" r="2.5"/>
<circle class="dot" cx="421.84" cy="482.91" r="2.5"/>
<circle class="dot" cx="443.40" cy="484.90" r="2.5"/>
<circle class="dot" cx="464.96" cy="486.45" r="2.5"/>
<circle class="dot" cx="486.53" cy="489.03" r="2.5"/>
<circle class="dot" cx="508.09" cy="489.16" r="2.5"/>
<circle class="dot" cx="529.66" cy="490.28" r="2.5"/>
<circle class="dot" cx="551.22" cy="489.17" r="2.5"/>
<circle class="dot" cx="572.78" cy="488.16" r="2.5"/>
<circle class="dot" cx="594.35" cy="491.65" r="2.5"/>
<circle class="dot" cx="615.91" cy="495.27" r="2.5"/>
<circle class="dot" cx="637.48" cy="499.03" r="2.5"/>
<circle class="dot" cx="659.04" cy="500.65" r="2.5"/>
<circle class="dot" cx="680.61" cy="500.02" r="2.5"/>
<circle class="dot" cx="702.17" cy="500.02" r="2.5"/>
<circle class="dot" cx="723.73" cy="500.38" r="2.5"/>
<circle class="dot" cx="745.30" cy="498.12" r="2.5"/>
<circle class="dot" cx="766.86" cy="508.13" r="2.5"/>
</g>
<g fill="#2196F3" stroke="#2196F3">
<circle class="dot" cx="119.94" cy="296.40" r="2.5"/>
<circle class="dot" cx="141.50" cy="267.00" r="2.5"/>
<circle class="dot" cx="163.07" cy="279.01" r="2.5"/>
<circle class="dot" cx="184.63" cy="368.40" r="2.5"/>
<circle class="dot" cx="206.19" cy="397.00" r="2.5"/>
<circle class="dot" cx="227.76" cy="268.20" r="2.5"/>
<circle class="dot" cx="249.32" cy="400.20" r="2.5"/>
<circle class="dot" cx="270.89" cy="422.70" r="2.5"/>
<circle class="dot" cx="292.45" cy="418.20" r="2.5"/>
<circle class="dot" cx="314.02" cy="389.70" r="2.5"/>
<circle class="dot" cx="335.58" cy="388.20" r="2.5"/>
<circle class="dot" cx="357.14" cy="314.00" r="2.5"/>
<circle class="dot" cx="378.71" cy="394.60" r="2.5"/>
<circle class="dot" cx="400.27" cy="402.60" r="2.5"/>
<circle class="dot" cx="421.84" cy="57.00" r="2.5"/>
<circle class="dot" cx="443.40" cy="322.88" r="2.5"/>
<circle class="dot" cx="464.96" cy="413.80" r="2.5"/>
<circle class="dot" cx="486.53" cy="391.80" r="2.5"/>
<circle class="dot" cx="508.09" cy="398.40" r="2.5"/>
<circle class="dot" cx="529.66" cy="389.00" r="2.5"/>
<circle class="dot" cx="551.22" cy="379.40" r="2.5"/>
<circle class="dot" cx="572.78" cy="410.52" r="2.5"/>
<circle class="dot" cx="594.35" cy="407.00" r="2.5"/>
<circle class="dot" cx="615.91" cy="283.01" r="2.5"/>
<circle class="dot" cx="637.48" cy="90.60" r="2.5"/>
<circle class="dot" cx="659.04" cy="145.80" r="2.5"/>
<circle class="dot" cx="680.61" cy="271.60" r="2.5"/>
<circle class="dot" cx="702.17" cy="246.60" r="2.5"/>
<circle class="dot" cx="723.73" cy="334.59" r="2.5"/>
<circle class="dot" cx="745.30" cy="383.60" r="2.5"/>
<circle class="dot" cx="766.86" cy="461.50" r="2.5"/>
</g>
</g>
<text class="title" x="129.1" y="580">Accessos per països, sense filtrar robots ni tipus de peticions</text>
<g class="legends">
<rect class="lbox" x="10" y="57" width="12" height="12" fill="#F44336" stroke="#F44336"/>
<text class="leg" x="27" y="67.2">CAT</text>
<rect class="lbox" x="10" y="78" width="12" height="12" fill="#3F51B5" stroke="#3F51B5"/>
<text class="leg" x="27" y="88.2">DE</text>
<rect class="lbox" x="10" y="99" width="12" height="12" fill="#009688" stroke="#009688"/>
<text class="leg" x="27" y="109.2">ES</text>
<rect class="lbox" x="10" y="120" width="12" height="12" fill="#FFC107" stroke="#FFC107"/>
<text class="leg" x="27" y="130.2">FR</text>
<rect class="lbox" x="10" y="141" width="12" height="12" fill="#FF5722" stroke="#FF5722"/>
<text class="leg" x="27" y="151.2">IT</text>
<rect class="lbox" x="10" y="162" width="12" height="12" fill="#9C27B0" stroke="#9C27B0"/>
<text class="leg" x="27" y="172.2">LT</text>
<rect class="lbox" x="10" y="183" width="12" height="12" fill="#03A9F4" stroke="#03A9F4"/>
<text class="leg" x="27" y="193.2">NL</text>
<rect class="lbox" x="10" y="204" width="12" height="12" fill="#8BC34A" stroke="#8BC34A"/>
<text class="leg" x="27" y="214.2">PA</text>
<rect class="lbox" x="10" y="225" width="12" height="12" fill="#FF9800" stroke="#FF9800"/>
<text class="leg" x="27" y="235.2">RU</text>
<rect class="lbox" x="10" y="246" width="12" height="12" fill="#E91E63" stroke="#E91E63"/>
<text class="leg" x="27" y="256.2">SG</text>
<rect class="lbox" x="10" y="267" width="12" height="12" fill="#2196F3" stroke="#2196F3"/>
<text class="leg" x="27" y="277.2">US</text>
</g>
</svg></body></html>
